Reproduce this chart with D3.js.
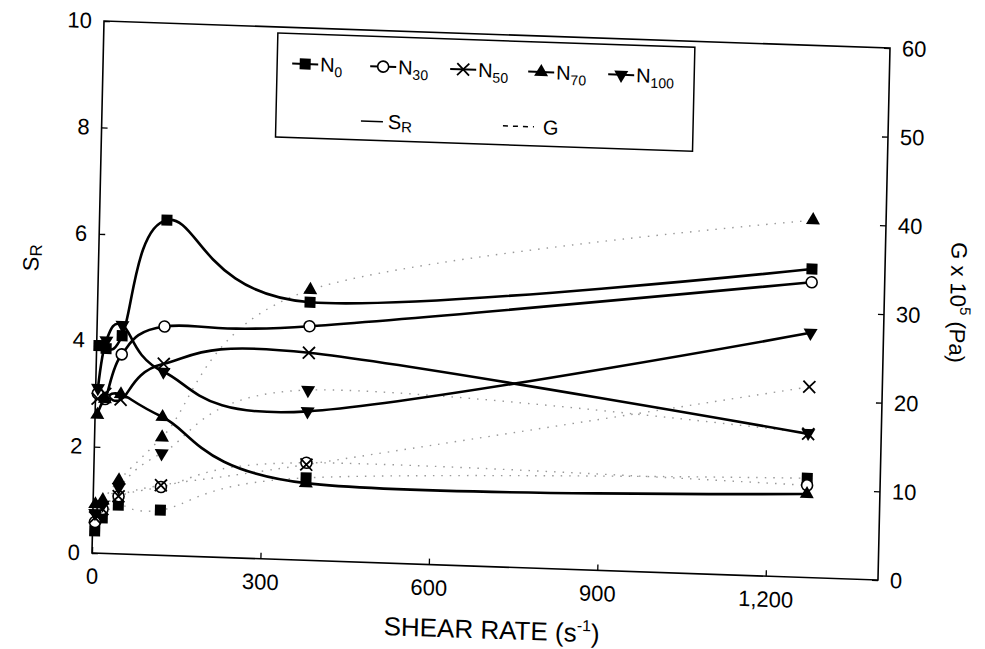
<!DOCTYPE html>
<html>
<head>
<meta charset="utf-8">
<title>SR and G vs shear rate</title>
<script src="https://cdnjs.cloudflare.com/ajax/libs/d3/7.8.5/d3.min.js"></script>
<style>
body { margin: 0; background: #fff; }
text { font-family: "Liberation Sans", Arial, sans-serif; fill: #000; }
.tick line { stroke: #000; stroke-width: 1.3px; }
</style>
</head>
<body>
<div id="chart"></div>
<script>
// shear rate (s-1) of the six measurements
var shearRate = [4, 17, 45, 120, 378, 1270];

// S_R (left axis)
var srN0   = [3.9, 3.85, 4.1, 6.3, 4.85, 5.8];
var srN30  = [3.0, 2.9, 3.75, 4.3, 4.4, 5.55];
var srN50  = [2.9, 3.0, 2.9, 3.6, 3.9, 2.7];
var srN70  = [2.6, 2.9, 3.0, 2.6, 1.45, 1.57];
var srN100 = [3.1, 4.0, 4.3, 3.45, 2.8, 4.6];

// G x 10^5 Pa (right axis)
var gN0   = [2.5, 4, 5.5, 5.1, 9.3, 11.2];
var gN30  = [3.5, 5, 6.5, 7.7, 11, 10.4];
var gN50  = [4, 5, 6.5, 7.9, 10.8, 21.5];
var gN70  = [5.5, 6, 8.3, 13.3, 30.5, 40.3];
var gN100 = [4.5, 5.5, 7.5, 11.5, 19.2, 16.3];

var seriesSub = ["0", "30", "50", "70", "100"];
var markers = ["square", "circle", "x", "up", "down"];

var xTicks = [0, 300, 600, 900, 1200];
var srTicks = [0, 2, 4, 6, 8, 10];
var gTicks = [0, 10, 20, 30, 40, 50, 60];

var series = [
  {sub: seriesSub[0], marker: markers[0], sr: srN0,   g: gN0},
  {sub: seriesSub[1], marker: markers[1], sr: srN30,  g: gN30},
  {sub: seriesSub[2], marker: markers[2], sr: srN50,  g: gN50},
  {sub: seriesSub[3], marker: markers[3], sr: srN70,  g: gN70},
  {sub: seriesSub[4], marker: markers[4], sr: srN100, g: gN100}
];

var W = 786, H = 532;

var svg = d3.select("#chart").append("svg")
  .attr("width", 985).attr("height", 649);

// the scanned original sits slightly skewed on the page
var root = svg.append("g")
  .attr("transform", "matrix(1,0.0344,-0.0226,1,104,21)");

var x = d3.scaleLinear().domain([0, 1400]).range([0, W]);
var ySR = d3.scaleLinear().domain([0, 10]).range([H, 0]);
var yG = d3.scaleLinear().domain([0, 60]).range([H, 0]);

function drawMarker(g, type, cx, cy) {
  if (type == "square") {
    g.append("rect").attr("x", cx - 5.5).attr("y", cy - 5.5)
      .attr("width", 11).attr("height", 11).attr("fill", "#000");
  } else if (type == "circle") {
    g.append("circle").attr("cx", cx).attr("cy", cy).attr("r", 5.5)
      .attr("fill", "#fff").attr("stroke", "#000").attr("stroke-width", 1.6);
  } else if (type == "x") {
    g.append("path")
      .attr("d", "M" + (cx - 6) + "," + (cy - 6) + "L" + (cx + 6) + "," + (cy + 6) +
                 "M" + (cx - 6) + "," + (cy + 6) + "L" + (cx + 6) + "," + (cy - 6))
      .attr("stroke", "#000").attr("stroke-width", 1.8).attr("fill", "none");
  } else {
    var rot = type == "down" ? 180 : 0;
    g.append("path")
      .attr("d", d3.symbol().type(d3.symbolTriangle).size(85)())
      .attr("transform", "translate(" + cx + "," + cy + ") rotate(" + rot + ")")
      .attr("fill", "#000");
  }
}

// axes
var xAxis = d3.axisBottom(x).tickValues(xTicks).tickFormat(d3.format(","))
  .tickSizeInner(-6).tickSizeOuter(0).tickPadding(15);
var yAxisL = d3.axisLeft(ySR).tickValues(srTicks)
  .tickSizeInner(-6).tickSizeOuter(0).tickPadding(12);
var yAxisR = d3.axisRight(yG).tickValues(gTicks)
  .tickSizeInner(-6).tickSizeOuter(0).tickPadding(12);

root.append("g").attr("transform", "translate(0," + H + ")").call(xAxis);
root.append("g").call(yAxisL);
root.append("g").attr("transform", "translate(" + W + ",0)").call(yAxisR);
root.selectAll(".domain").remove();
root.selectAll(".tick text").style("font-size", "22px");

root.append("rect").attr("x", 0).attr("y", 0).attr("width", W).attr("height", H)
  .attr("fill", "none").attr("stroke", "#000").attr("stroke-width", 1.6);

// curves
var curve = d3.curveCardinal.tension(0);
var lineSR = d3.line().x(function (d, i) { return x(shearRate[i]); })
  .y(function (d) { return ySR(d); }).curve(curve);
var lineG = d3.line().x(function (d, i) { return x(shearRate[i]); })
  .y(function (d) { return yG(d); }).curve(curve);

var plot = root.append("g");
series.forEach(function (s) {
  plot.append("path").attr("d", lineG(s.g))
    .attr("fill", "none").attr("stroke", "#999").attr("stroke-width", 1.4)
    .attr("stroke-dasharray", "1.5,7");
});
series.forEach(function (s) {
  plot.append("path").attr("d", lineSR(s.sr))
    .attr("fill", "none").attr("stroke", "#000").attr("stroke-width", 2.6);
});
series.forEach(function (s) {
  s.g.forEach(function (d, i) { drawMarker(plot, s.marker, x(shearRate[i]), yG(d)); });
  s.sr.forEach(function (d, i) { drawMarker(plot, s.marker, x(shearRate[i]), ySR(d)); });
});

// legend
var leg = root.append("g");
leg.append("rect").attr("x", 174).attr("y", 6).attr("width", 417).attr("height", 104)
  .attr("fill", "#fff").attr("stroke", "#000").attr("stroke-width", 1.5);
var legX = [189, 267, 347, 425, 505];
series.forEach(function (s, i) {
  var lx = legX[i], ly = 36;
  leg.append("line").attr("x1", lx).attr("x2", lx + 26).attr("y1", ly).attr("y2", ly)
    .attr("stroke", "#000").attr("stroke-width", 2);
  drawMarker(leg, s.marker, lx + 13, ly);
  var t = leg.append("text").attr("x", lx + 28).attr("y", ly + 7).style("font-size", "20px");
  t.append("tspan").text("N");
  t.append("tspan").attr("dy", 5).style("font-size", "14px").text(s.sub);
});
leg.append("line").attr("x1", 259).attr("x2", 281).attr("y1", 91).attr("y2", 91)
  .attr("stroke", "#000").attr("stroke-width", 1.5);
var tS = leg.append("text").attr("x", 286).attr("y", 98).style("font-size", "20px");
tS.append("tspan").text("S");
tS.append("tspan").attr("dy", 3).style("font-size", "15px").text("R");
leg.append("line").attr("x1", 401).attr("x2", 432).attr("y1", 91).attr("y2", 91)
  .attr("stroke", "#000").attr("stroke-width", 1.5).attr("stroke-dasharray", "5,5");
leg.append("text").attr("x", 441).attr("y", 98).style("font-size", "20px").text("G");

// axis titles
var tx = root.append("text").attr("x", 401).attr("y", 604)
  .attr("text-anchor", "middle").style("font-size", "26px");
tx.append("tspan").text("SHEAR RATE (s");
tx.append("tspan").attr("dy", -11).style("font-size", "16px").text("-1");
tx.append("tspan").attr("dy", 11).text(")");

var tl = root.append("text").attr("transform", "translate(-60,239) rotate(-90)")
  .attr("text-anchor", "middle").style("font-size", "22px");
tl.append("tspan").text("S");
tl.append("tspan").attr("dy", 3).style("font-size", "17px").text("R");

var tr = root.append("text").attr("transform", "translate(852,252) rotate(90)")
  .attr("text-anchor", "middle").style("font-size", "22px");
tr.append("tspan").text("G x 10");
tr.append("tspan").attr("dy", -10).style("font-size", "15px").text("5");
tr.append("tspan").attr("dy", 10).text(" (Pa)");
</script>
</body>
</html>
